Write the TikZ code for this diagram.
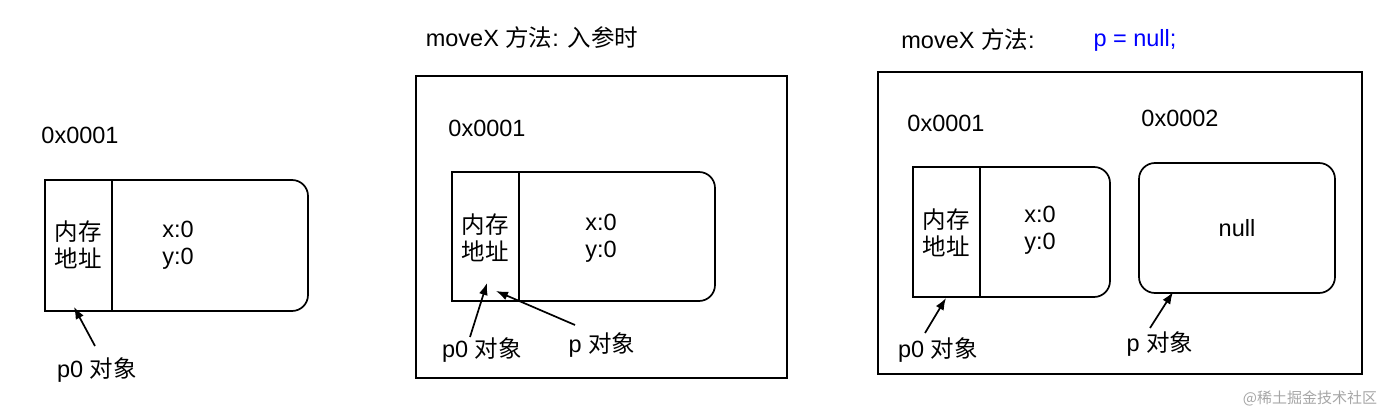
\documentclass[tikz,border=0pt]{standalone}
\usetikzlibrary{arrows.meta}
\usepackage{fontspec}
\setmainfont{Liberation Sans}
\newfontfamily\cjk{Noto Sans CJK SC}
\begin{document}
\begin{tikzpicture}[x=1pt,y=-1pt,
  txt/.style={inner sep=0pt,font=\fontsize{23.5}{27}\selectfont},
  frame/.style={draw,line width=1.7pt},
  cell/.style={draw,line width=1.7pt},
  arr/.style={-{Latex[length=12pt,width=9pt]},line width=1.7pt}]
\useasboundingbox (0,0) rectangle (1390,414);
% left
\node[txt] (a0) at (80,135) {0x0001};
\draw[cell,rounded corners=16pt] (112,180) -- (308,180) -- (308,311) -- (112,311);
\draw[cell] (45,180) rectangle (112,311);
\node[txt,align=center] (am) at (78,245) {\cjk 内存\\\cjk 地址};
\node[txt,align=left] (av) at (178,245) {x:0\\y:0};
\node[txt] (ap0) at (97,370) {p0 {\cjk 对象}};
\coordinate (at0) at (74,307);
\coordinate (as0) at (95,346);
\draw[arr] (as0) -- (at0);
% middle
\node[txt] (mt) at (532,38) {moveX {\cjk 方法}: {\cjk 入参时}};
\draw[frame] (416,76) rectangle (787,378);
\node[txt] (m0) at (487,128) {0x0001};
\draw[cell,rounded corners=16pt] (519,172) -- (715,172) -- (715,301) -- (519,301);
\draw[cell] (452,172) rectangle (519,301);
\node[txt,align=center] (mm) at (485,238) {\cjk 内存\\\cjk 地址};
\node[txt,align=left] (mv) at (601,238) {x:0\\y:0};
\node[txt] (mp0) at (482,350) {p0 {\cjk 对象}};
\node[txt] (mp) at (602,345) {p {\cjk 对象}};
\coordinate (mt0) at (487,283);
\coordinate (mt1) at (496,291);
\coordinate (ms0) at (470,337);
\coordinate (ms1) at (575,325);
\draw[arr] (ms0) -- (mt0);
\draw[arr] (ms1) -- (mt1);
% right
\node[txt] (rt) at (968,40) {moveX {\cjk 方法}:};
\node[txt,text=blue] (rn) at (1135,40) {p = null;};
\draw[frame] (878,72) rectangle (1362,374);
\node[txt] (r0) at (946,123) {0x0001};
\node[txt] (r2) at (1180,118) {0x0002};
\draw[cell,rounded corners=16pt] (980,167) -- (1110,167) -- (1110,297) -- (980,297);
\draw[cell] (913,167) rectangle (980,297);
\node[txt,align=center] (rm) at (946,233) {\cjk 内存\\\cjk 地址};
\node[txt,align=left] (rv) at (1040,230) {x:0\\y:0};
\draw[cell,rounded corners=16pt] (1139,163) rectangle (1335,293);
\node[txt] (rnull) at (1237,228) {null};
\node[txt] (rp0) at (938,350) {p0 {\cjk 对象}};
\node[txt] (rp) at (1160,344) {p {\cjk 对象}};
\coordinate (rs0) at (925,333);
\coordinate (rt0) at (946,298);
\coordinate (rs1) at (1150,328);
\coordinate (rt1) at (1173,292);
\draw[arr] (rs0) -- (rt0);
\draw[arr] (rs1) -- (rt1);
\node[inner sep=0pt,text=gray!70,font=\fontsize{15}{18}\selectfont\cjk] (wm) at (1310,398) {@稀土掘金技术社区};
\end{tikzpicture}
\end{document}
